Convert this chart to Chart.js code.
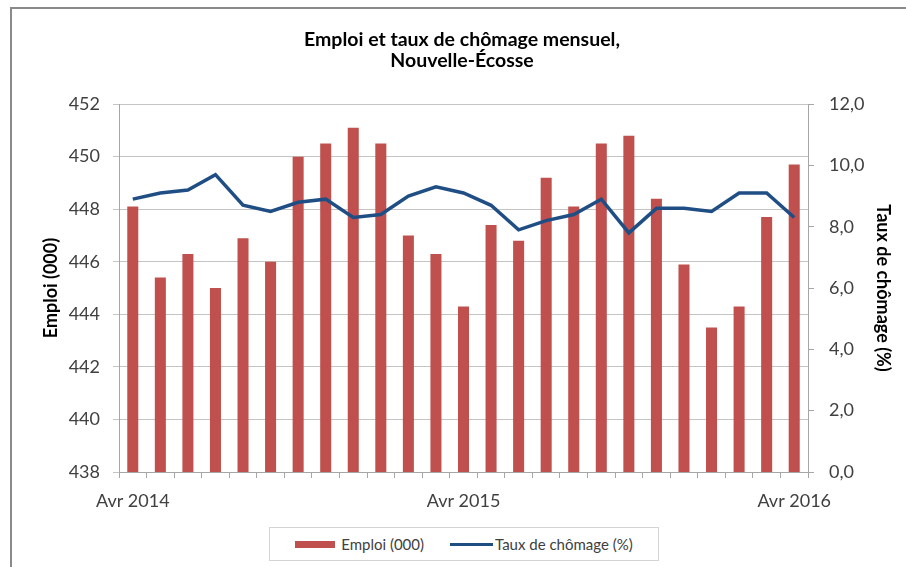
<!DOCTYPE html>
<html lang="fr">
<head>
<meta charset="utf-8">
<title>Emploi et taux de chômage mensuel, Nouvelle-Écosse</title>
<script src="https://cdn.jsdelivr.net/npm/chart.js@4.4.1/dist/chart.umd.min.js"></script>
<style>
    html, body { margin: 0; padding: 0; background: #fff; }
    #wrap { position: relative; width: 906px; height: 567px; overflow: hidden; }
    #cadre { position: absolute; left: 10px; top: 7px; width: 1000px; height: 1000px; border: 2px solid #8a8a8a; }
    #graphique { position: absolute; left: 0; top: 0; }
    #legende {
        position: absolute; left: 269px; top: 527px; width: 388px; height: 32px;
        border: 1px solid #d4d4d4; background: #fff;
        display: flex; align-items: center; justify-content: center;
        font-family: Lato, sans-serif; font-size: 15px; color: #404040;
    }
    #legende .item { display: flex; align-items: center; }
    #legende .barre { width: 40px; height: 7px; margin-right: 6px; }
    #legende .ligne { width: 43px; height: 3px; margin-right: 2px; }
</style>
</head>
<body>
<div id="wrap">
    <div id="cadre"></div>
    <canvas id="graphique" width="906" height="567"></canvas>
    <div id="legende"></div>
</div>
<script>
// ===== Données =====
const mois = [
    'Avr 2014', 'Mai 2014', 'Juin 2014', 'Juil 2014', 'Août 2014', 'Sept 2014',
    'Oct 2014', 'Nov 2014', 'Déc 2014', 'Janv 2015', 'Févr 2015', 'Mars 2015',
    'Avr 2015', 'Mai 2015', 'Juin 2015', 'Juil 2015', 'Août 2015', 'Sept 2015',
    'Oct 2015', 'Nov 2015', 'Déc 2015', 'Janv 2016', 'Févr 2016', 'Mars 2016',
    'Avr 2016'
];
const etiquettesX = ['Avr 2014', 'Avr 2015', 'Avr 2016'];

// Emploi (milliers)
const emploi = [
    448.1, 445.4, 446.3, 445.0, 446.9, 446.0, 450.0, 450.5, 451.1, 450.5, 447.0, 446.3,
    444.3, 447.4, 446.8, 449.2, 448.1, 450.5, 450.8, 448.4, 445.9, 443.5, 444.3, 447.7,
    449.7
];

// Taux de chômage (%)
const chomage = [
    8.9, 9.1, 9.2, 9.7, 8.7, 8.5, 8.8, 8.9, 8.3, 8.4, 9.0, 9.3,
    9.1, 8.7, 7.9, 8.2, 8.4, 8.9, 7.8, 8.6, 8.6, 8.5, 9.1, 9.1,
    8.3
];

const titre = ['Emploi et taux de chômage mensuel,', 'Nouvelle-Écosse'];
const libelles = ['Emploi (000)', 'Taux de chômage (%)'];
const couleurs = ['#c0504d', '#1f4e85'];

const police = 'Lato, sans-serif';
const gris = '#404040';

// ===== Graphique =====
document.addEventListener('DOMContentLoaded', function() {
    initGraphique();
    initLegende();
});

function initGraphique() {
    const ctx = document.getElementById('graphique');

    new Chart(ctx.getContext('2d'), {
        data: {
            labels: mois,
            datasets: [
                {
                    type: 'line',
                    label: libelles[1],
                    data: chomage,
                    yAxisID: 'y1',
                    borderColor: couleurs[1],
                    backgroundColor: couleurs[1],
                    borderWidth: 3.5,
                    pointRadius: 0,
                    tension: 0,
                    order: 0
                },
                {
                    type: 'bar',
                    label: libelles[0],
                    data: emploi,
                    yAxisID: 'y',
                    backgroundColor: couleurs[0],
                    categoryPercentage: 1,
                    barPercentage: 0.4,
                    order: 1
                }
            ]
        },
        options: {
            responsive: false,
            animation: false,
            layout: {
                padding: { left: 30, right: 12, top: 0, bottom: 0 }
            },
            plugins: {
                legend: { display: false },
                tooltip: { enabled: false },
                title: {
                    display: true,
                    text: titre,
                    color: '#000',
                    font: { family: police, size: 19.5, weight: 'bold', lineHeight: 1.08 },
                    padding: { top: 29, bottom: 33 }
                }
            },
            scales: {
                x: {
                    offset: true,
                    grid: {
                        offset: true,
                        drawOnChartArea: false,
                        tickLength: 6,
                        color: '#a6a6a6'
                    },
                    border: { color: '#a6a6a6' },
                    ticks: {
                        autoSkip: false,
                        maxRotation: 0,
                        padding: 12,
                        color: gris,
                        font: { family: police, size: 18 },
                        callback: function(value) {
                            const lab = this.getLabelForValue(value);
                            return etiquettesX.includes(lab) ? lab : '';
                        }
                    },
                    afterFit: function(scale) { scale.height = 95; }
                },
                y: {
                    position: 'left',
                    min: 438,
                    max: 452,
                    ticks: {
                        stepSize: 2,
                        padding: 13,
                        color: gris,
                        font: { family: police, size: 18 }
                    },
                    grid: { color: '#c4c4c4', tickLength: 6 },
                    border: { color: '#a6a6a6' },
                    title: {
                        display: true,
                        text: libelles[0],
                        color: '#000',
                        font: { family: police, size: 18, weight: 'bold' },
                        padding: { top: 10, bottom: 0 }
                    },
                    afterFit: function(scale) { scale.width = 89; }
                },
                y1: {
                    position: 'right',
                    min: 0,
                    max: 12,
                    ticks: {
                        stepSize: 2,
                        padding: 15,
                        color: gris,
                        font: { family: police, size: 18 },
                        callback: function(value) {
                            return value.toFixed(1).replace('.', ',');
                        }
                    },
                    grid: { drawOnChartArea: false, tickLength: 6, color: '#a6a6a6' },
                    border: { color: '#a6a6a6' },
                    title: {
                        display: true,
                        text: libelles[1],
                        color: '#000',
                        font: { family: police, size: 18, weight: 'bold' },
                        padding: { top: 0, bottom: 0 }
                    },
                    afterFit: function(scale) { scale.width = 86; }
                }
            }
        }
    });
}

// Légende HTML encadrée, comme dans l'original
function initLegende() {
    const legende = document.getElementById('legende');
    legende.innerHTML =
        '<span class="item"><span class="barre" style="background:' + couleurs[0] + '"></span>' + libelles[0] + '</span>' +
        '<span class="item" style="margin-left:26px"><span class="ligne" style="background:' + couleurs[1] + '"></span>' + libelles[1] + '</span>';
}
</script>
</body>
</html>
